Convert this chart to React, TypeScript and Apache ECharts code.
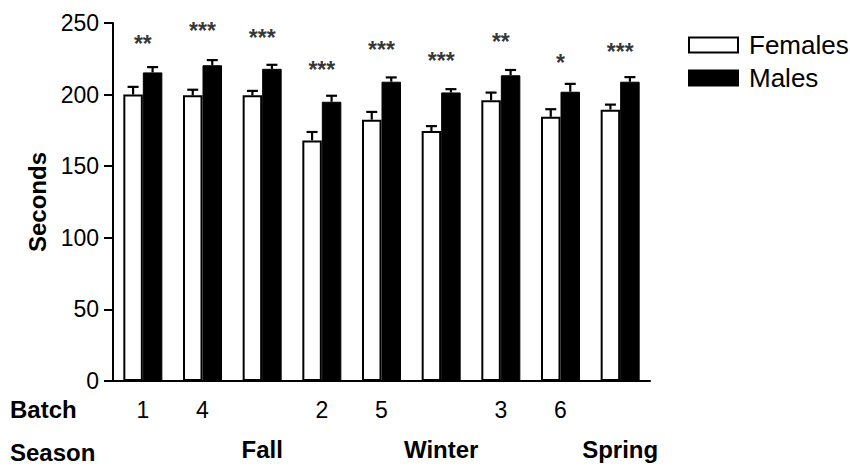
import React, { useEffect, useRef } from "react";
import * as echarts from "echarts";

const batchLabels = ["1", "4", "", "2", "5", "", "3", "6", ""];
const seasonLabels = ["", "", "Fall", "", "", "Winter", "", "", "Spring"];
const femaleMeans = [200, 199.5, 199.5, 168, 182.5, 174.5, 196, 184.5, 189.5];
const femaleErr = [5.4, 3.9, 3.1, 5.9, 5.4, 3.5, 5.4, 5.3, 3.5];
const maleMeans = [215.5, 220.5, 218, 195, 209, 201.5, 213.5, 202, 209];
const maleErr = [3.7, 3.6, 2.8, 4.2, 3.0, 2.3, 3.7, 5.5, 3.2];
const stars = ["**", "***", "***", "***", "***", "***", "**", "*", "***"];
const starLevels = [236, 245, 240, 218, 232, 224, 237.5, 223, 230.5];
const yTicks = { min: 0, max: 250, interval: 50 };

const SANS = "'Liberation Sans', Arial, sans-serif";
const BAR_W = 19.5;

export default function App() {
  const ref = useRef<HTMLDivElement>(null);
  useEffect(() => {
    if (!ref.current) return;
    const chart = echarts.init(ref.current, undefined, { renderer: "svg" });

    const errSeries = (means: number[], errs: number[], offset: number, name: string) => ({
      type: "custom",
      name: name + "_err",
      xAxisIndex: 0,
      yAxisIndex: 0,
      z: 1,
      data: means.map((m, i) => [i, m, m + errs[i]]),
      renderItem: (params: any, api: any) => {
        const base = api.coord([api.value(0), api.value(1)]);
        const top = api.coord([api.value(0), api.value(2)]);
        const x = base[0] + offset;
        const style = { stroke: "#000", lineWidth: 2.2 };
        return {
          type: "group",
          children: [
            { type: "line", shape: { x1: x, y1: base[1], x2: x, y2: top[1] }, style },
            { type: "line", shape: { x1: x - 5.5, y1: top[1], x2: x + 5.5, y2: top[1] }, style },
          ],
        };
      },
      silent: true,
    });

    chart.setOption({
      animation: false,
      grid: { left: 113, right: 200, top: 23, bottom: 86, containLabel: false },
      legend: {
        orient: "vertical",
        left: 688,
        top: 32,
        padding: 0,
        itemWidth: 49,
        itemHeight: 15,
        itemGap: 7,
        icon: "rect",
        data: ["Females", "Males"],
        textStyle: { fontFamily: SANS, fontSize: 26, color: "#000", lineHeight: 24, padding: [0, 0, 0, 6] },
      },
      xAxis: [
        {
          type: "category",
          data: batchLabels,
          position: "bottom",
          axisLine: { lineStyle: { color: "#000", width: 2 } },
          axisTick: { alignWithLabel: true, length: 9, lineStyle: { color: "#000", width: 2 } },
          axisLabel: { interval: 0, margin: 17, fontFamily: SANS, fontSize: 23, color: "#000" },
        },
        {
          type: "category",
          data: seasonLabels,
          position: "bottom",
          axisLine: { show: false },
          axisTick: { show: false },
          axisLabel: { interval: 0, margin: 56, fontFamily: SANS, fontWeight: "bold", fontSize: 24, color: "#000" },
        },
      ],
      yAxis: {
        type: "value",
        min: yTicks.min,
        max: yTicks.max,
        interval: yTicks.interval,
        name: "Seconds",
        nameLocation: "middle",
        nameGap: 59,
        nameTextStyle: { fontFamily: SANS, fontWeight: "bold", fontSize: 24, color: "#000" },
        axisLine: { show: true, lineStyle: { color: "#000", width: 2 } },
        axisTick: { show: true, length: 9, lineStyle: { color: "#000", width: 2 } },
        axisLabel: { margin: 14, fontFamily: SANS, fontSize: 23, color: "#000" },
        splitLine: { show: false },
      },
      graphic: [
        { type: "text", left: 10, top: 397, style: { text: "Batch", font: "bold 24px " + SANS, fill: "#000" } },
        { type: "text", left: 10, top: 440, style: { text: "Season", font: "bold 24px " + SANS, fill: "#000" } },
      ],
      series: [
        {
          type: "bar",
          name: "Females",
          data: femaleMeans,
          barWidth: BAR_W,
          barGap: "0%",
          z: 2,
          itemStyle: { color: "#fff", borderColor: "#000", borderWidth: 2 },
        },
        {
          type: "bar",
          name: "Males",
          data: maleMeans,
          barWidth: BAR_W,
          barGap: "0%",
          z: 2,
          itemStyle: { color: "#000", borderColor: "#000", borderWidth: 1 },
        },
        errSeries(femaleMeans, femaleErr, -BAR_W / 2, "Females"),
        errSeries(maleMeans, maleErr, BAR_W / 2, "Males"),
        {
          type: "scatter",
          name: "sig",
          symbolSize: 0,
          data: starLevels.map((v, i) => [i, v]),
          label: {
            show: true,
            position: "inside",
            formatter: (p: any) => stars[p.dataIndex],
            fontFamily: SANS,
            fontWeight: "bold",
            fontSize: 23,
            color: "#000",
            offset: [0, 1],
          },
          silent: true,
        },
      ],
    });
    return () => chart.dispose();
  }, []);
  return <div ref={ref} style={{ position: "absolute", left: 0, top: 0, width: 850, height: 467 }} />;
}
